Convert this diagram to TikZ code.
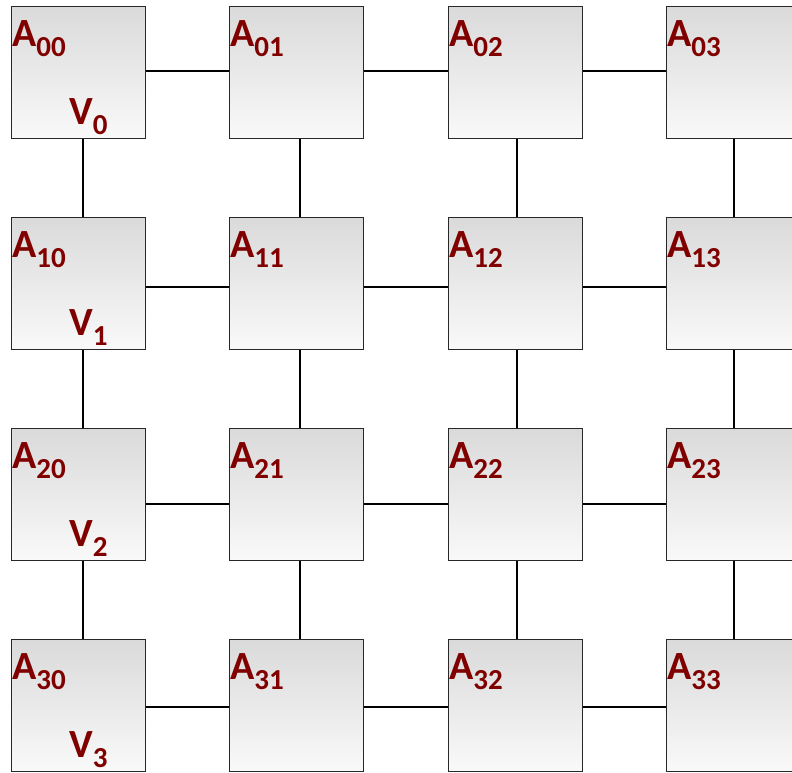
\documentclass[tikz,border=0pt]{standalone}
\usepackage{fontspec}
\newfontfamily\labfont{Carlito}
\definecolor{labred}{RGB}{128,0,0}
\definecolor{boxtop}{RGB}{218,218,218}
\definecolor{boxbot}{RGB}{249,249,249}
\definecolor{boxline}{RGB}{40,40,40}
\newcommand\lsub[1]{\raisebox{-10pt}{\fontsize{29}{29}\selectfont #1}}
\begin{document}
\begin{tikzpicture}[x=1pt,y=1pt,
  cell/.style={draw=boxline, line width=1.5pt, top color=boxtop, bottom color=boxbot,
    minimum width=134pt, minimum height=132pt, inner sep=0pt},
  lab/.style={text=labred, font=\labfont\bfseries\fontsize{40}{40}\selectfont, inner sep=0pt, anchor=base west},
  conn/.style={draw=black, line width=1.2pt}]
\useasboundingbox (0,0) rectangle (792,-772);
\foreach \c/\L in {0/11,1/229,2/448,3/666}{
  \foreach \r/\T in {0/6,1/217,2/428,3/639}{
    \node[cell] (n\r\c) at ({\L+67.5},{-(\T+66.5)}) {};
    \node[lab] (a\r\c) at ({\L+1},{-(\T+40)}) {A\lsub{\r\c}};
  }
}
\foreach \r/\T in {0/6,1/217,2/428,3/639}{
  \node[lab] (v\r) at (69,{-(\T+118)}) {V\lsub{\r}};
}
\foreach \r/\y in {0/71,1/287,2/504,3/707}{
  \foreach \c [evaluate=\c as \d using int(\c+1)] in {0,1,2}{
    \draw[conn] (n\r\c.east |- 0,-\y) -- (n\r\d.west |- 0,-\y);
  }
}
\foreach \c/\x in {0/83,1/300,2/517,3/734}{
  \foreach \r [evaluate=\r as \s using int(\r+1)] in {0,1,2}{
    \draw[conn] (n\r\c.south -| \x,0) -- (n\s\c.north -| \x,0);
  }
}
\end{tikzpicture}
\end{document}
